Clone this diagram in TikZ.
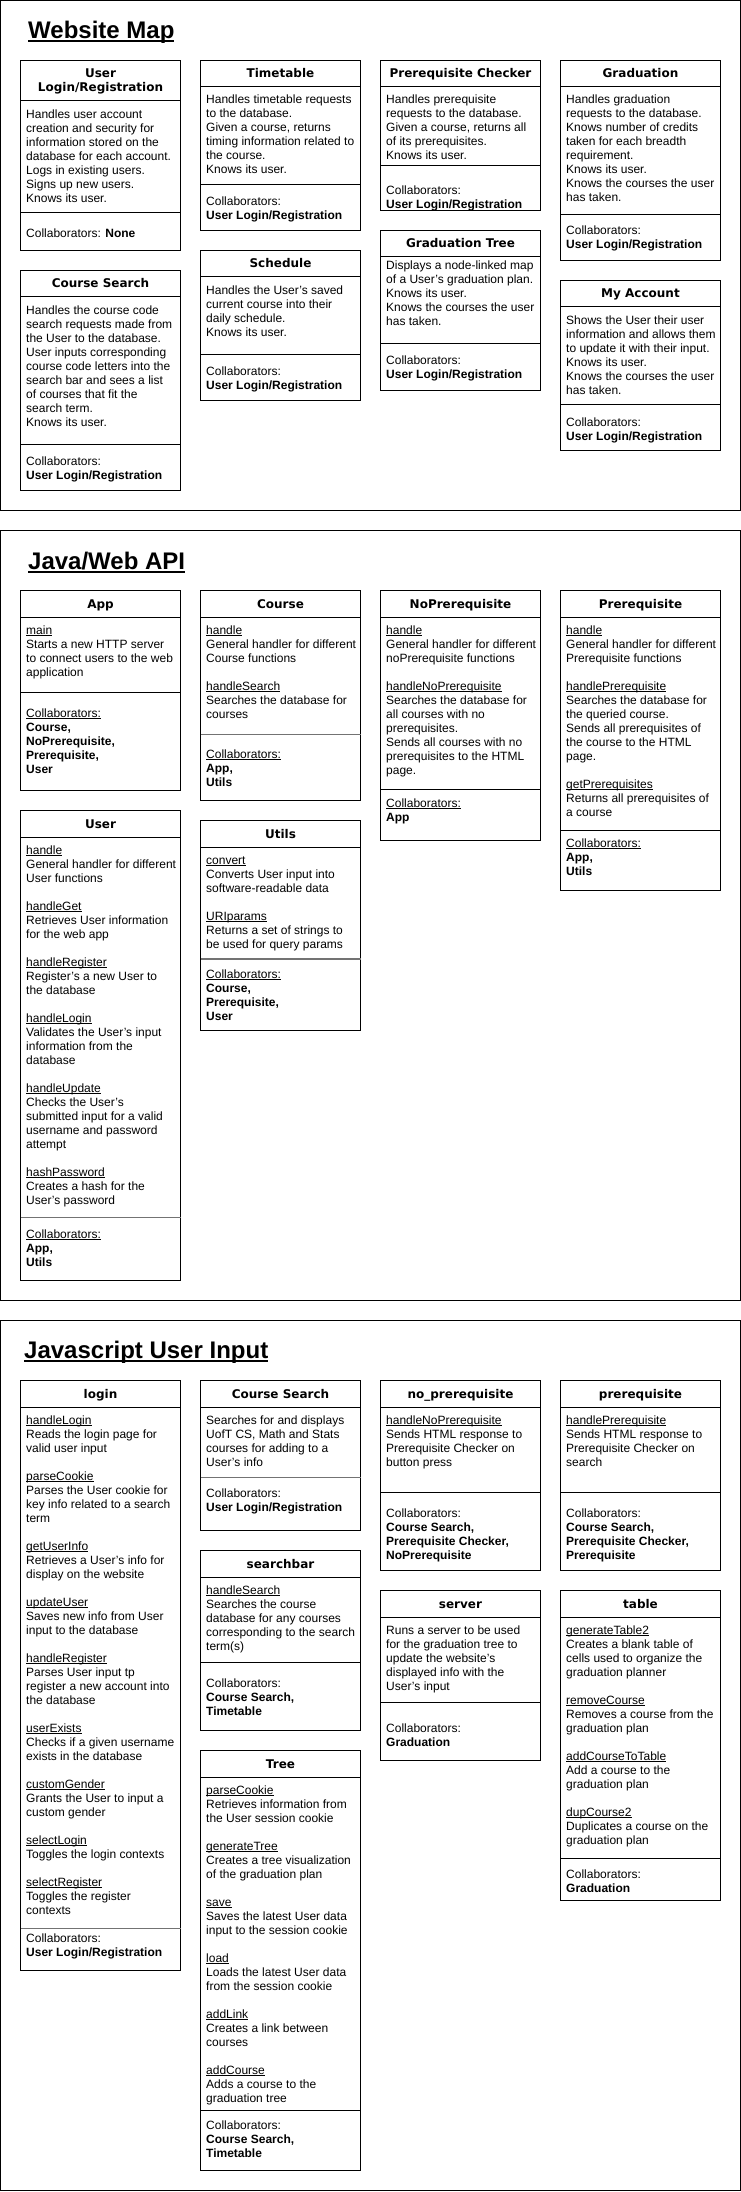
\documentclass[tikz,border=0pt]{standalone}
\usepackage{fontspec}
\setmainfont{Liberation Sans}
\newfontfamily\hdrfont{DejaVu Sans}
\newcommand\fnu[1]{\leavevmode\setbox0\hbox{#1}\rlap{\rule[-1.5pt]{\wd0}{0.8pt}}\box0}
\newcommand\ttlu[1]{\leavevmode\setbox0\hbox{#1}\rlap{\rule[-3.6pt]{\wd0}{1.8pt}}\box0}
\newcommand\tb[1]{\parbox[t]{200pt}{\raggedright #1}}
\newcommand\hb[1]{\parbox[t]{160pt}{\centering #1}}
% card frame: [divider style]{x}{top}{header divider}{body divider}{bottom}
\newcommand\crcframe[6][sepline]{%
  \draw[cardline] (#2,#3) rectangle ({#2+160},#6);
  \draw[sepline] (#2,#4) -- ({#2+160},#4);
  \draw[#1] (#2,#5) -- ({#2+160},#5);}
\tikzset{
  frameline/.style={draw=black,line width=1pt},
  cardline/.style={draw=black,line width=1pt},
  sepline/.style={draw=black,line width=1pt},
  graysep/.style={draw=black!55,line width=1.6pt},
  hdr/.style={anchor=base,inner sep=0pt,font=\hdrfont\bfseries\fontsize{12pt}{14.4pt}\selectfont},
  txt/.style={anchor=base west,inner sep=0pt,font=\fontsize{12pt}{14pt}\selectfont},
  ttl/.style={anchor=base west,inner sep=0pt,font=\bfseries\fontsize{24pt}{28pt}\selectfont},
}
\begin{document}
\begin{tikzpicture}[x=1pt,y=-1pt]
\useasboundingbox[fill=white] (0,0) rectangle (741,2192);
% ===== section frames
\draw[frameline] (0.5,0.5) rectangle (740.5,510.5);
\draw[frameline] (0.5,530.5) rectangle (740.5,1300.5);
\draw[frameline] (0.5,1320.5) rectangle (740.5,2190.5);
\node[ttl] (t1) at (28,38.5) {\ttlu{Website Map}};
\node[ttl] (t2) at (28,569) {\ttlu{Java/Web API}};
\node[ttl] (t3) at (24,1358.5) {\ttlu{Javascript User Input}};

% ===== Website Map
\crcframe{20.5}{60.5}{100.5}{212.5}{250.5}
\node[hdr] (ulr-h) at (100.5,77.5) {\hb{User\\Login/Registration}};
\node[txt] (ulr-b) at (26,118.3) {\tb{Handles user account\\creation and security for\\information stored on the\\database for each account.\\Logs in existing users.\\Signs up new users.\\Knows its user.}};
\node[txt] (ulr-c) at (26,237) {\tb{Collaborators: \textbf{None}}};

\crcframe{200.5}{60.5}{86.5}{184.5}{230.5}
\node[hdr] (tt-h) at (280.5,77.5) {\hb{Timetable}};
\node[txt] (tt-b) at (206,103.3) {\tb{Handles timetable requests\\to the database.\\Given a course, returns\\timing information related to\\the course.\\Knows its user.}};
\node[txt] (tt-c) at (206,205.5) {\tb{Collaborators:\\\textbf{User Login/Registration}}};

\crcframe{20.5}{270.5}{296.5}{444.5}{490.5}
\node[hdr] (cs-h) at (100.5,287.5) {\hb{Course Search}};
\node[txt] (cs-b) at (26,314) {\tb{Handles the course code\\search requests made from\\the User to the database.\\User inputs corresponding\\course code letters into the\\search bar and sees a list\\of courses that fit the\\search term.\\Knows its user.}};
\node[txt] (cs-c) at (26,465) {\tb{Collaborators:\\\textbf{User Login/Registration}}};

\crcframe{200.5}{250.5}{276.5}{354.5}{400.5}
\node[hdr] (sch-h) at (280.5,267.5) {\hb{Schedule}};
\node[txt] (sch-b) at (206,294) {\tb{Handles the User's saved\\current course into their\\daily schedule.\\Knows its user.}};
\node[txt] (sch-c) at (206,375) {\tb{Collaborators:\\\textbf{User Login/Registration}}};

\crcframe{380.5}{60.5}{86.5}{165.5}{210.5}
\node[hdr] (pc-h) at (460.5,77.5) {\hb{Prerequisite Checker}};
\node[txt] (pc-b) at (386,103.3) {\tb{Handles prerequisite\\requests to the database.\\Given a course, returns all\\of its prerequisites.\\Knows its user.}};
\node[txt] (pc-c) at (386,194) {\tb{Collaborators:\\\textbf{User Login/Registration}}};

\crcframe{380.5}{230.5}{256.5}{343.5}{390.5}
\node[hdr] (gt-h) at (460.5,247.5) {\hb{Graduation Tree}};
\node[txt] (gt-b) at (386,269.7) {\tb{Displays a node-linked map\\of a User's graduation plan.\\Knows its user.\\Knows the courses the user\\has taken.}};
\node[txt] (gt-c) at (386,364) {\tb{Collaborators:\\\textbf{User Login/Registration}}};

\crcframe{560.5}{60.5}{86.5}{214.5}{260.5}
\node[hdr] (gr-h) at (640.5,77.5) {\hb{Graduation}};
\node[txt] (gr-b) at (566,103.3) {\tb{Handles graduation\\requests to the database.\\Knows number of credits\\taken for each breadth\\requirement.\\Knows its user.\\Knows the courses the user\\has taken.}};
\node[txt] (gr-c) at (566,234.7) {\tb{Collaborators:\\\textbf{User Login/Registration}}};

\crcframe{560.5}{280.5}{306.5}{404.5}{450.5}
\node[hdr] (ma-h) at (640.5,297.5) {\hb{My Account}};
\node[txt] (ma-b) at (566,324.7) {\tb{Shows the User their user\\information and allows them\\to update it with their input.\\Knows its user.\\Knows the courses the user\\has taken.}};
\node[txt] (ma-c) at (566,426.3) {\tb{Collaborators:\\\textbf{User Login/Registration}}};

% ===== Java/Web API
\crcframe{20.5}{590.5}{617.5}{692.5}{790.5}
\node[hdr] (app-h) at (100.5,608) {\hb{App}};
\node[txt] (app-b) at (26,634) {\tb{\fnu{main}\\Starts a new HTTP server\\to connect users to the web\\application}};
\node[txt] (app-c) at (26,717.3) {\tb{\fnu{Collaborators:}\\\textbf{Course,}\\\textbf{NoPrerequisite,}\\\textbf{Prerequisite,}\\\textbf{User}}};

\crcframe[graysep]{200.5}{590.5}{617.5}{734.5}{800.5}
\node[hdr] (crs-h) at (280.5,608) {\hb{Course}};
\node[txt] (crs-b) at (206,634) {\tb{\fnu{handle}\\General handler for different\\Course functions\\[14pt]\fnu{handleSearch}\\Searches the database for\\courses}};
\node[txt] (crs-c) at (206,758) {\tb{\fnu{Collaborators:}\\\textbf{App,}\\\textbf{Utils}}};

\crcframe{380.5}{590.5}{617.5}{789.5}{840.5}
\node[hdr] (nop-h) at (460.5,608) {\hb{NoPrerequisite}};
\node[txt] (nop-b) at (386,634) {\tb{\fnu{handle}\\General handler for different\\noPrerequisite functions\\[14pt]\fnu{handleNoPrerequisite}\\Searches the database for\\all courses with no\\prerequisites.\\Sends all courses with no\\prerequisites to the HTML\\page.}};
\node[txt] (nop-c) at (386,807.3) {\tb{\fnu{Collaborators:}\\\textbf{App}}};

\crcframe{560.5}{590.5}{617.5}{830.5}{890.5}
\node[hdr] (pre-h) at (640.5,608) {\hb{Prerequisite}};
\node[txt] (pre-b) at (566,634) {\tb{\fnu{handle}\\General handler for different\\Prerequisite functions\\[14pt]\fnu{handlePrerequisite}\\Searches the database for\\the queried course.\\Sends all prerequisites of\\the course to the HTML\\page.\\[14pt]\fnu{getPrerequisites}\\Returns all prerequisites of\\a course}};
\node[txt] (pre-c) at (566,847.3) {\tb{\fnu{Collaborators:}\\\textbf{App,}\\\textbf{Utils}}};

\crcframe[graysep]{20.5}{810.5}{837.5}{1217.5}{1280.5}
\node[hdr] (usr-h) at (100.5,828) {\hb{User}};
\node[txt] (usr-b) at (26,854) {\tb{\fnu{handle}\\General handler for different\\User functions\\[14pt]\fnu{handleGet}\\Retrieves User information\\for the web app\\[14pt]\fnu{handleRegister}\\Register's a new User to\\the database\\[14pt]\fnu{handleLogin}\\Validates the User's input\\information from the\\database\\[14pt]\fnu{handleUpdate}\\Checks the User's\\submitted input for a valid\\username and password\\attempt\\[14pt]\fnu{hashPassword}\\Creates a hash for the\\User's password}};
\node[txt] (usr-c) at (26,1238) {\tb{\fnu{Collaborators:}\\\textbf{App,}\\\textbf{Utils}}};

\crcframe[graysep]{200.5}{820.5}{847.5}{959}{1030.5}
\node[hdr] (utl-h) at (280.5,838) {\hb{Utils}};
\node[txt] (utl-b) at (206,864.7) {\tb{\fnu{convert}\\Converts User input into\\software-readable data\\[14pt]\fnu{URIparams}\\Returns a set of strings to\\be used for query params}};
\node[txt] (utl-c) at (206,978) {\tb{\fnu{Collaborators:}\\\textbf{Course,}\\\textbf{Prerequisite,}\\\textbf{User}}};

% ===== Javascript User Input
\crcframe[graysep]{20.5}{1380.5}{1407.5}{1928.5}{1970.5}
\node[hdr] (lg-h) at (100.5,1398) {\hb{login}};
\node[txt] (lg-b) at (26,1424.7) {\tb{\fnu{handleLogin}\\Reads the login page for\\valid user input\\[14pt]\fnu{parseCookie}\\Parses the User cookie for\\key info related to a search\\term\\[14pt]\fnu{getUserInfo}\\Retrieves a User's info for\\display on the website\\[14pt]\fnu{updateUser}\\Saves new info from User\\input to the database\\[14pt]\fnu{handleRegister}\\Parses User input tp\\register a new account into\\the database\\[14pt]\fnu{userExists}\\Checks if a given username\\exists in the database\\[14pt]\fnu{customGender}\\Grants the User to input a\\custom gender\\[14pt]\fnu{selectLogin}\\Toggles the login contexts\\[14pt]\fnu{selectRegister}\\Toggles the register\\contexts}};
\node[txt] (lg-c) at (26,1942.3) {\tb{Collaborators:\\\textbf{User Login/Registration}}};

\crcframe[graysep]{200.5}{1380.5}{1407.5}{1477.5}{1530.5}
\node[hdr] (csj-h) at (280.5,1398) {\hb{Course Search}};
\node[txt] (csj-b) at (206,1424.7) {\tb{Searches for and displays\\UofT CS, Math and Stats\\courses for adding to a\\User's info}};
\node[txt] (csj-c) at (206,1497.3) {\tb{Collaborators:\\\textbf{User Login/Registration}}};

\crcframe{200.5}{1550.5}{1577.5}{1662.5}{1730.5}
\node[hdr] (sb-h) at (280.5,1568) {\hb{searchbar}};
\node[txt] (sb-b) at (206,1594) {\tb{\fnu{handleSearch}\\Searches the course\\database for any courses\\corresponding to the search\\term(s)}};
\node[txt] (sb-c) at (206,1687.3) {\tb{Collaborators:\\\textbf{Course Search,}\\\textbf{Timetable}}};

\crcframe{200.5}{1750.5}{1777.5}{2110.5}{2170.5}
\node[hdr] (tr-h) at (280.5,1768) {\hb{Tree}};
\node[txt] (tr-b) at (206,1794.7) {\tb{\fnu{parseCookie}\\Retrieves information from\\the User session cookie\\[14pt]\fnu{generateTree}\\Creates a tree visualization\\of the graduation plan\\[14pt]\fnu{save}\\Saves the latest User data\\input to the session cookie\\[14pt]\fnu{load}\\Loads the latest User data\\from the session cookie\\[14pt]\fnu{addLink}\\Creates a link between\\courses\\[14pt]\fnu{addCourse}\\Adds a course to the\\graduation tree}};
\node[txt] (tr-c) at (206,2129) {\tb{Collaborators:\\\textbf{Course Search,}\\\textbf{Timetable}}};

\crcframe{380.5}{1380.5}{1407.5}{1492.5}{1570.5}
\node[hdr] (np-h) at (460.5,1398) {\hb{no\_prerequisite}};
\node[txt] (np-b) at (386,1424.7) {\tb{\fnu{handleNoPrerequisite}\\Sends HTML response to\\Prerequisite Checker on\\button press}};
\node[txt] (np-c) at (386,1517.3) {\tb{Collaborators:\\\textbf{Course Search,}\\\textbf{Prerequisite Checker,}\\\textbf{NoPrerequisite}}};

\crcframe{560.5}{1380.5}{1407.5}{1492.5}{1570.5}
\node[hdr] (pr-h) at (640.5,1398) {\hb{prerequisite}};
\node[txt] (pr-b) at (566,1424.7) {\tb{\fnu{handlePrerequisite}\\Sends HTML response to\\Prerequisite Checker on\\search}};
\node[txt] (pr-c) at (566,1517.3) {\tb{Collaborators:\\\textbf{Course Search,}\\\textbf{Prerequisite Checker,}\\\textbf{Prerequisite}}};

\crcframe{380.5}{1590.5}{1617.5}{1702.5}{1760.5}
\node[hdr] (srv-h) at (460.5,1608) {\hb{server}};
\node[txt] (srv-b) at (386,1634.7) {\tb{Runs a server to be used\\for the graduation tree to\\update the website's\\displayed info with the\\User's input}};
\node[txt] (srv-c) at (386,1732.3) {\tb{Collaborators:\\\textbf{Graduation}}};

\crcframe{560.5}{1590.5}{1617.5}{1858.5}{1900.5}
\node[hdr] (tbl-h) at (640.5,1608) {\hb{table}};
\node[txt] (tbl-b) at (566,1634.7) {\tb{\fnu{generateTable2}\\Creates a blank table of\\cells used to organize the\\graduation planner\\[14pt]\fnu{removeCourse}\\Removes a course from the\\graduation plan\\[14pt]\fnu{addCourseToTable}\\Add a course to the\\graduation plan\\[14pt]\fnu{dupCourse2}\\Duplicates a course on the\\graduation plan}};
\node[txt] (tbl-c) at (566,1878) {\tb{Collaborators:\\\textbf{Graduation}}};
\end{tikzpicture}
\end{document}
